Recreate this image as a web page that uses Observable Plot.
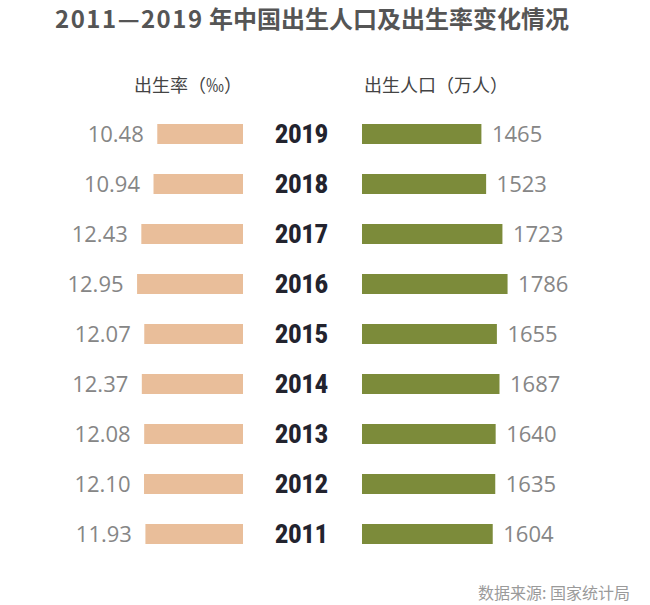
<!DOCTYPE html>
<html><head><meta charset="utf-8">
<script src="https://cdn.jsdelivr.net/npm/d3@7"></script>
<script src="https://cdn.jsdelivr.net/npm/@observablehq/plot@0.6"></script>
<style>
html,body{margin:0;padding:0;background:#fff;}
#wrap{position:relative;width:650px;height:605px;background:#fff;overflow:hidden;font-family:"Noto Sans CJK SC","Noto Sans",sans-serif;}
#wrap svg{position:absolute;left:0;top:0;background:transparent;}
.abs{position:absolute;white-space:nowrap;line-height:1.3;}
#title{left:55px;top:2px;font-size:24px;font-weight:700;color:#555;}
#title .d{letter-spacing:1.5px;}
.sub{top:73px;font-size:18px;color:#444;transform:translateX(-50%);}
#source{right:20px;top:582px;font-size:16px;color:#9a9a9a;}
</style>
</head><body>
<div id="wrap">
  <div id="title" class="abs"><span class="d">2011—2019</span> 年中国出生人口及出生率变化情况</div>
  <div class="abs sub" style="left:188px">出生率（‰）</div>
  <div class="abs sub" style="left:436px">出生人口（万人）</div>
  <div id="source" class="abs">数据来源: 国家统计局</div>
</div>
<script>
const years = ["2019","2018","2017","2016","2015","2014","2013","2012","2011"];
const birthRate = [10.48, 10.94, 12.43, 12.95, 12.07, 12.37, 12.08, 12.10, 11.93];
const births = [1465, 1523, 1723, 1786, 1655, 1687, 1640, 1635, 1604];

const rateRows = years.map((y, i) => ({year: y, value: birthRate[i]}));
const birthRows = years.map((y, i) => ({year: y, value: births[i]}));

const W = 650, H = 605;
const yScale = {domain: years, paddingInner: 0.607, paddingOuter: 0, axis: null};
const numFont = "'Open Sans', Lato, sans-serif";

const left = Plot.plot({
  width: W, height: H,
  marginTop: 120, marginBottom: 58, marginLeft: 0, marginRight: 0,
  x: {domain: [0, 13], range: [243, 243 - 8.18 * 13], axis: null},
  y: yScale,
  style: {background: "transparent"},
  marks: [
    Plot.barX(rateRows, {x: "value", y: "year", fill: "#e9be9a"}),
    Plot.text(rateRows, {x: "value", y: "year", text: d => d.value.toFixed(2), dx: -14,
      textAnchor: "end", fill: "#868686", fontSize: 22, fontWeight: 500, fontFamily: numFont}),
    Plot.text(rateRows, {y: "year", text: "year", dx: -24, fill: "#22232e",
      fontSize: 26, fontWeight: 900, fontFamily: "Roboto, 'DejaVu Sans', sans-serif",
      className: "yearlab"})
  ]
});

const right = Plot.plot({
  width: W, height: H,
  marginTop: 120, marginBottom: 58, marginLeft: 0, marginRight: 0,
  x: {domain: [0, 1800], range: [362, 362 + 0.0815 * 1800], axis: null},
  y: yScale,
  style: {background: "transparent"},
  marks: [
    Plot.barX(birthRows, {x: "value", y: "year", fill: "#7c8b3a"}),
    Plot.text(birthRows, {x: "value", y: "year", text: d => String(d.value), dx: 10,
      textAnchor: "start", fill: "#868686", fontSize: 22, fontWeight: 500, fontFamily: numFont})
  ]
});

const wrap = document.getElementById("wrap");
wrap.appendChild(left);
wrap.appendChild(right);

// condense the year labels horizontally (Impact-like look)
d3.select(left).selectAll("g.yearlab text").each(function() {
  const t = d3.select(this);
  const tr = t.attr("transform") || "";
  t.attr("transform", tr + " scale(0.88,1)");
});
</script>
</body></html>
